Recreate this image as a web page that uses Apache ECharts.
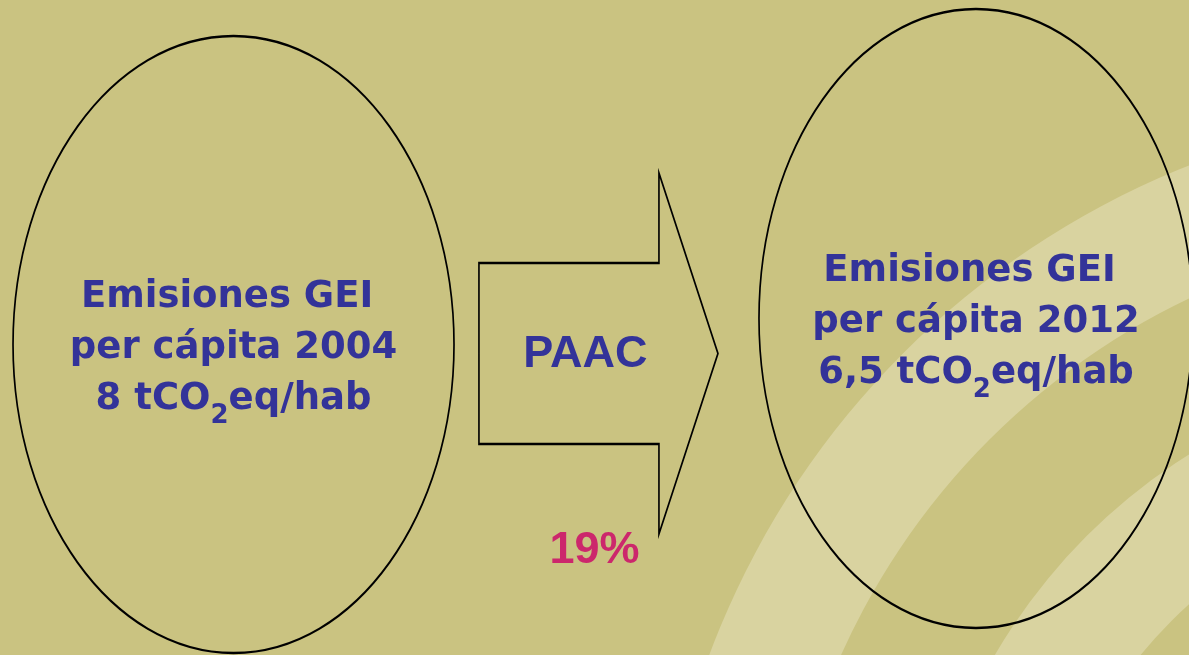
<!DOCTYPE html>
<html>
<head>
<meta charset="utf-8">
<script src="https://cdn.jsdelivr.net/npm/echarts@6/dist/echarts.min.js"></script>
<style>
  html, body { margin: 0; padding: 0; background: #cac381; }
  #chart { width: 1189px; height: 655px; }
</style>
</head>
<body>
<div id="chart"></div>
<script>
// ---- data ----
const categories = ['2004', 'PAAC', '2012'];
const years = ['2004', '2012'];
const emissions = [8, 6.5];              // tCO2eq per inhabitant
const titleLines = ['Emisiones GEI ', 'per cápita'];
const unitParts = ['tCO', '2', 'eq/hab'];
const planName = 'PAAC';

// ---- derived ----
const reductionPct = Math.round((emissions[0] - emissions[1]) / emissions[0] * 100);
const fmtNum = v => String(v).replace('.', ',');

// ---- styles / layout ----
const BLUE = '#333399';
const PINK = '#cc0066';
const ELLIPSE_PATH = 'path://M2,1 C2,1.5523 1.5523,2 1,2 C0.4477,2 0,1.5523 0,1 C0,0.4477 0.4477,0 1,0 C1.5523,0 2,0.4477 2,1 Z';
const ARROW_PATH = 'path://M0,90 L180,90 L180,0 L239,180.5 L180,361 L180,271 L0,271 Z';
const ellipseLayout = [
  { size: [441, 617], offset: [0, 17] },
  { size: [434, 619], offset: [0, -9] }
];
const mainFont = { fontFamily: 'DejaVu Sans', fontWeight: 'bold', fontSize: 37, lineHeight: 51, color: BLUE };
const subFont = { fontFamily: 'DejaVu Sans', fontWeight: 'bold', fontSize: 26, lineHeight: 51, color: BLUE, padding: [34, 0, 0, 0] };

const chart = echarts.init(document.getElementById('chart'), null, { renderer: 'canvas' });

const ellipseData = years.map((y, i) => ({
  value: [y, 0],
  symbolSize: ellipseLayout[i].size,
  symbolOffset: ellipseLayout[i].offset,
  emission: emissions[i],
  year: y
}));

chart.setOption({
  animation: false,
  backgroundColor: '#cac381',
  graphic: [
    { type: 'ring', z: 0, silent: true, shape: { cx: 1500, cy: 950, r: 844, r0: 722 }, style: { fill: '#d9d3a0' } },
    { type: 'ring', z: 0, silent: true, shape: { cx: 1500, cy: 950, r: 585, r0: 465 }, style: { fill: '#d9d3a0' } }
  ],
  grid: { left: 47.9, right: 27.4, top: 0, bottom: 0 },
  xAxis: { type: 'category', data: categories, show: false, boundaryGap: true },
  yAxis: { type: 'value', min: -1, max: 1, show: false },
  tooltip: { show: false },
  series: [
    {
      name: 'emisiones',
      type: 'scatter',
      z: 3,
      silent: true,
      symbol: ELLIPSE_PATH,
      symbolKeepAspect: false,
      itemStyle: { color: 'rgba(0,0,0,0)', borderColor: '#000', borderWidth: 2, opacity: 1 },
      emphasis: { disabled: true },
      label: {
        show: true,
        position: 'inside',
        offset: [0, 4],
        align: 'center',
        textBorderWidth: 0,
        formatter: p => [
          '{m|' + titleLines[0] + '}',
          '{m|' + titleLines[1] + ' ' + p.data.year + '}',
          '{m|' + fmtNum(p.data.emission) + ' ' + unitParts[0] + '}{s|' + unitParts[1] + '}{m|' + unitParts[2] + '}'
        ].join('\n'),
        rich: { m: mainFont, s: subFont }
      },
      data: ellipseData
    },
    {
      name: 'plan',
      type: 'scatter',
      z: 3,
      silent: true,
      symbol: ARROW_PATH,
      symbolKeepAspect: false,
      symbolSize: [239, 361],
      symbolOffset: [-6.3, 26],
      itemStyle: { color: 'rgba(0,0,0,0)', borderColor: '#000', borderWidth: 2, opacity: 1 },
      emphasis: { disabled: true },
      label: {
        show: true,
        position: 'inside',
        offset: [-13, 1.5],
        textBorderWidth: 0,
        formatter: () => planName,
        fontFamily: 'Liberation Sans',
        fontWeight: 'bold',
        fontSize: 45,
        color: BLUE
      },
      data: [[categories[1], 0]]
    },
    {
      name: 'reduccion',
      type: 'scatter',
      z: 3,
      silent: true,
      symbol: 'circle',
      symbolSize: 1,
      symbolOffset: [-10.3, 223.5],
      itemStyle: { color: 'rgba(0,0,0,0)' },
      emphasis: { disabled: true },
      label: {
        show: true,
        position: 'inside',
        textBorderWidth: 0,
        formatter: () => reductionPct + '%',
        fontFamily: 'Liberation Sans',
        fontWeight: 'bold',
        fontSize: 45,
        color: PINK
      },
      data: [[categories[1], 0]]
    }
  ]
});
</script>
</body>
</html>
